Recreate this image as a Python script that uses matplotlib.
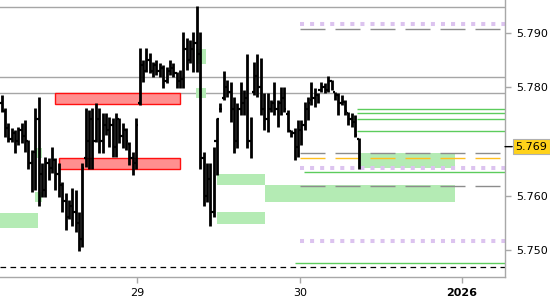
import numpy as np
import matplotlib
matplotlib.use("Agg")
import matplotlib.pyplot as plt
from matplotlib.patches import Rectangle

# 30-minute OHLC bars (x = bar number)
highs = [5.7785, 5.7761, 5.7734, 5.7725, 5.7721, 5.7727, 5.7734, 5.7739, 5.7703, 5.7684,
         5.7761, 5.7782, 5.7660, 5.7671, 5.7670, 5.7690, 5.7670, 5.7660, 5.7624, 5.7605,
         5.7592, 5.7614, 5.7611, 5.7569, 5.7660, 5.7761, 5.7758, 5.7761, 5.7771, 5.7761,
         5.7752, 5.7752, 5.7745, 5.7743, 5.7752, 5.7743, 5.7734, 5.7725, 5.7699, 5.7681,
         5.7743, 5.7872, 5.7850, 5.7872, 5.7863, 5.7846, 5.7850, 5.7844, 5.7841, 5.7837,
         5.7850, 5.7844, 5.7828, 5.7831, 5.7901, 5.7890, 5.7886, 5.7901, 5.7949, 5.7901,
         5.7681, 5.7660, 5.7660, 5.7690, 5.7743, 5.7771, 5.7830, 5.7813, 5.7809, 5.7782,
         5.7771, 5.7809, 5.7795, 5.7861, 5.7745, 5.7846, 5.7861, 5.7853, 5.7789, 5.7789,
         5.7776, 5.7809, 5.7776, 5.7800, 5.7800, 5.7758, 5.7721, 5.7725, 5.7739, 5.7739,
         5.7773, 5.7782, 5.7809, 5.7798, 5.7789, 5.7809, 5.7807, 5.7820, 5.7813, 5.7791,
         5.7789, 5.7785, 5.7776, 5.7754, 5.7752, 5.7749, 5.7706]
lows = [5.7754, 5.7708, 5.7699, 5.7699, 5.7679, 5.7693, 5.7697, 5.7681, 5.7648, 5.7607,
        5.7611, 5.7580, 5.7598, 5.7598, 5.7629, 5.7642, 5.7611, 5.7598, 5.7569, 5.7537,
        5.7556, 5.7543, 5.7532, 5.7497, 5.7506, 5.7653, 5.7648, 5.7648, 5.7699, 5.7679,
        5.7679, 5.7712, 5.7690, 5.7671, 5.7671, 5.7697, 5.7688, 5.7684, 5.7657, 5.7638,
        5.7648, 5.7767, 5.7809, 5.7828, 5.7826, 5.7818, 5.7822, 5.7818, 5.7798, 5.7807,
        5.7822, 5.7818, 5.7798, 5.7798, 5.7798, 5.7831, 5.7844, 5.7828, 5.7828, 5.7648,
        5.7580, 5.7589, 5.7543, 5.7561, 5.7638, 5.7754, 5.7776, 5.7782, 5.7736, 5.7679,
        5.7688, 5.7749, 5.7749, 5.7688, 5.7670, 5.7785, 5.7782, 5.7749, 5.7721, 5.7717,
        5.7754, 5.7749, 5.7727, 5.7749, 5.7754, 5.7717, 5.7708, 5.7666, 5.7671, 5.7693,
        5.7721, 5.7739, 5.7767, 5.7763, 5.7771, 5.7791, 5.7789, 5.7791, 5.7795, 5.7776,
        5.7749, 5.7767, 5.7749, 5.7730, 5.7727, 5.7708, 5.7648]
opens = [5.7770, 5.7755, 5.7725, 5.7705, 5.7715, 5.7700, 5.7720, 5.7710, 5.7700, 5.7660,
         5.7680, 5.7740, 5.7640, 5.7610, 5.7660, 5.7650, 5.7665, 5.7640, 5.7620, 5.7590,
         5.7560, 5.7580, 5.7570, 5.7550, 5.7520, 5.7670, 5.7700, 5.7740, 5.7700, 5.7740,
         5.7700, 5.7730, 5.7720, 5.7730, 5.7690, 5.7740, 5.7710, 5.7720, 5.7695, 5.7670,
         5.7660, 5.7770, 5.7840, 5.7830, 5.7850, 5.7830, 5.7840, 5.7830, 5.7835, 5.7810,
         5.7830, 5.7835, 5.7825, 5.7810, 5.7815, 5.7870, 5.7850, 5.7870, 5.7880, 5.7860,
         5.7670, 5.7600, 5.7630, 5.7570, 5.7700, 5.7760, 5.7780, 5.7800, 5.7790, 5.7760,
         5.7700, 5.7760, 5.7770, 5.7780, 5.7700, 5.7790, 5.7820, 5.7800, 5.7760, 5.7740,
         5.7760, 5.7770, 5.7760, 5.7770, 5.7780, 5.7750, 5.7718, 5.7715, 5.7690, 5.7720,
         5.7730, 5.7760, 5.7775, 5.7780, 5.7785, 5.7795, 5.7800, 5.7795, 5.7810, 5.7790,
         5.7785, 5.7770, 5.7772, 5.7752, 5.7740, 5.7735, 5.7705]
closes = [5.7760, 5.7725, 5.7705, 5.7715, 5.7700, 5.7720, 5.7710, 5.7700, 5.7660, 5.7680,
          5.7740, 5.7640, 5.7610, 5.7660, 5.7650, 5.7665, 5.7640, 5.7620, 5.7590, 5.7560,
          5.7580, 5.7570, 5.7550, 5.7520, 5.7650, 5.7700, 5.7740, 5.7700, 5.7740, 5.7700,
          5.7730, 5.7720, 5.7730, 5.7690, 5.7740, 5.7710, 5.7720, 5.7700, 5.7670, 5.7660,
          5.7730, 5.7840, 5.7830, 5.7850, 5.7830, 5.7840, 5.7830, 5.7835, 5.7810, 5.7830,
          5.7835, 5.7825, 5.7810, 5.7815, 5.7870, 5.7845, 5.7870, 5.7880, 5.7860, 5.7670,
          5.7600, 5.7630, 5.7570, 5.7700, 5.7740, 5.7760, 5.7800, 5.7790, 5.7760, 5.7700,
          5.7760, 5.7770, 5.7780, 5.7700, 5.7740, 5.7820, 5.7800, 5.7760, 5.7740, 5.7760,
          5.7770, 5.7760, 5.7770, 5.7780, 5.7760, 5.7725, 5.7715, 5.7690, 5.7720, 5.7730,
          5.7760, 5.7770, 5.7780, 5.7785, 5.7795, 5.7800, 5.7795, 5.7810, 5.7800, 5.7785,
          5.7770, 5.7775, 5.7755, 5.7740, 5.7735, 5.7712, 5.7690]

day_ticks = [40.2, 88.6, 136.7]
day_labels = ["29", "30", "2026"]

# full-width levels
gray_levels = [5.7947, 5.7818, 5.7789]
black_dashed_level = 5.7469
# levels starting at "30"
gray_dashed_levels = [5.7906, 5.7678, 5.7618]
orange_dashed_level = 5.7669
lavender_levels = [5.7916, 5.7650, 5.7516]
green_line_levels = [(105.5, 5.7759), (105.5, 5.7752), (105.5, 5.7741), (105.5, 5.7719),
                     (89.8, 5.7643), (87.1, 5.7476)]

# zones: (x0, x1, low, high)
green_zones = [(-1.0, 10.8, 5.7540, 5.7568), (10.0, 12.0, 5.7670, 5.7688),
               (10.0, 12.0, 5.7589, 5.7607), (57.7, 60.7, 5.7842, 5.7870),
               (57.7, 60.7, 5.7780, 5.7798), (64.0, 78.2, 5.7620, 5.7640),
               (64.0, 78.2, 5.7548, 5.7569), (78.2, 134.6, 5.7589, 5.7620),
               (105.9, 134.6, 5.7650, 5.7679)]
red_zones = [(15.9, 53.0, 5.7768, 5.7789), (17.1, 53.0, 5.7649, 5.7669)]

last_price = 5.769
x_end = 149.5

fig = plt.figure(figsize=(5.5, 3.0), dpi=100)
ax = fig.add_axes([0.0, 23 / 300, 505 / 550, 277 / 300])
ax.set_xlim(-0.45, x_end)
ax.set_ylim(5.7450, 5.7960)

for y in gray_levels:
    ax.axhline(y, color="#a6a6a6", lw=1.0, zorder=1)
ax.axhline(black_dashed_level, color="black", lw=0.9, ls=(0, (4.5, 3.5)), zorder=1)
for y in gray_dashed_levels:
    ax.hlines(y, 88.6, x_end, color="#8c8c8c", lw=1.0, ls=(0, (18, 7.2)), zorder=2)
ax.hlines(orange_dashed_level, 88.6, x_end, color="#ffbf1f", lw=1.0,
          ls=(0, (18, 7.2)), zorder=2)
for y in lavender_levels:
    ax.hlines(y, 88.6, x_end, color="#dcc3ef", lw=2.9, ls=(0, (1.0, 1.5)),
              capstyle="butt", zorder=2)
for x0, y in green_line_levels:
    ax.hlines(y, x0, x_end, color="#5ccc5c", lw=1.0, zorder=2)

for x0, x1, lo, hi in green_zones:
    ax.add_patch(Rectangle((x0, lo), x1 - x0, hi - lo, facecolor="#b4ebb4",
                           edgecolor="none", zorder=1.5))
for x0, x1, lo, hi in red_zones:
    ax.add_patch(Rectangle((x0, lo), x1 - x0, hi - lo, facecolor="#ff8f8f",
                           edgecolor="#ff1010", lw=1.0, zorder=1.5))

xs = np.arange(len(highs))
ax.vlines(xs, lows, highs, color="black", lw=2.0, zorder=3)
ax.hlines(opens, xs - 0.5, xs, color="black", lw=1.6, zorder=3)
ax.hlines(closes, xs, xs + 0.5, color="black", lw=1.6, zorder=3)

# axes styling
for side in ("left", "top"):
    ax.spines[side].set_visible(False)
for side in ("right", "bottom"):
    ax.spines[side].set_color("#a8a8a8")
    ax.spines[side].set_linewidth(1.0)
ax.yaxis.tick_right()
ax.set_yticks([5.750, 5.760, 5.780, 5.790])
ax.set_yticklabels(["5.750", "5.760", "5.780", "5.790"], fontsize=8)
ax.set_xticks(day_ticks)
ax.set_xticklabels(day_labels, fontsize=8)
ax.get_xticklabels()[2].set_fontweight("bold")
ax.tick_params(axis="both", color="#a8a8a8", length=4, width=1, pad=4)

# last-price marker
ax.annotate("5.769", xy=(1.0, last_price), xycoords=("axes fraction", "data"),
            xytext=(7.5, 0), textcoords="offset points", va="center", ha="left",
            fontsize=8, color="black",
            bbox=dict(boxstyle="square,pad=0.25", facecolor="#ffd21a",
                      edgecolor="#b0b0b0", lw=0.8),
            arrowprops=dict(arrowstyle="-", color="black", lw=1.0,
                            shrinkA=0, shrinkB=0),
            annotation_clip=False)

fig.savefig("out.png", dpi=100)
